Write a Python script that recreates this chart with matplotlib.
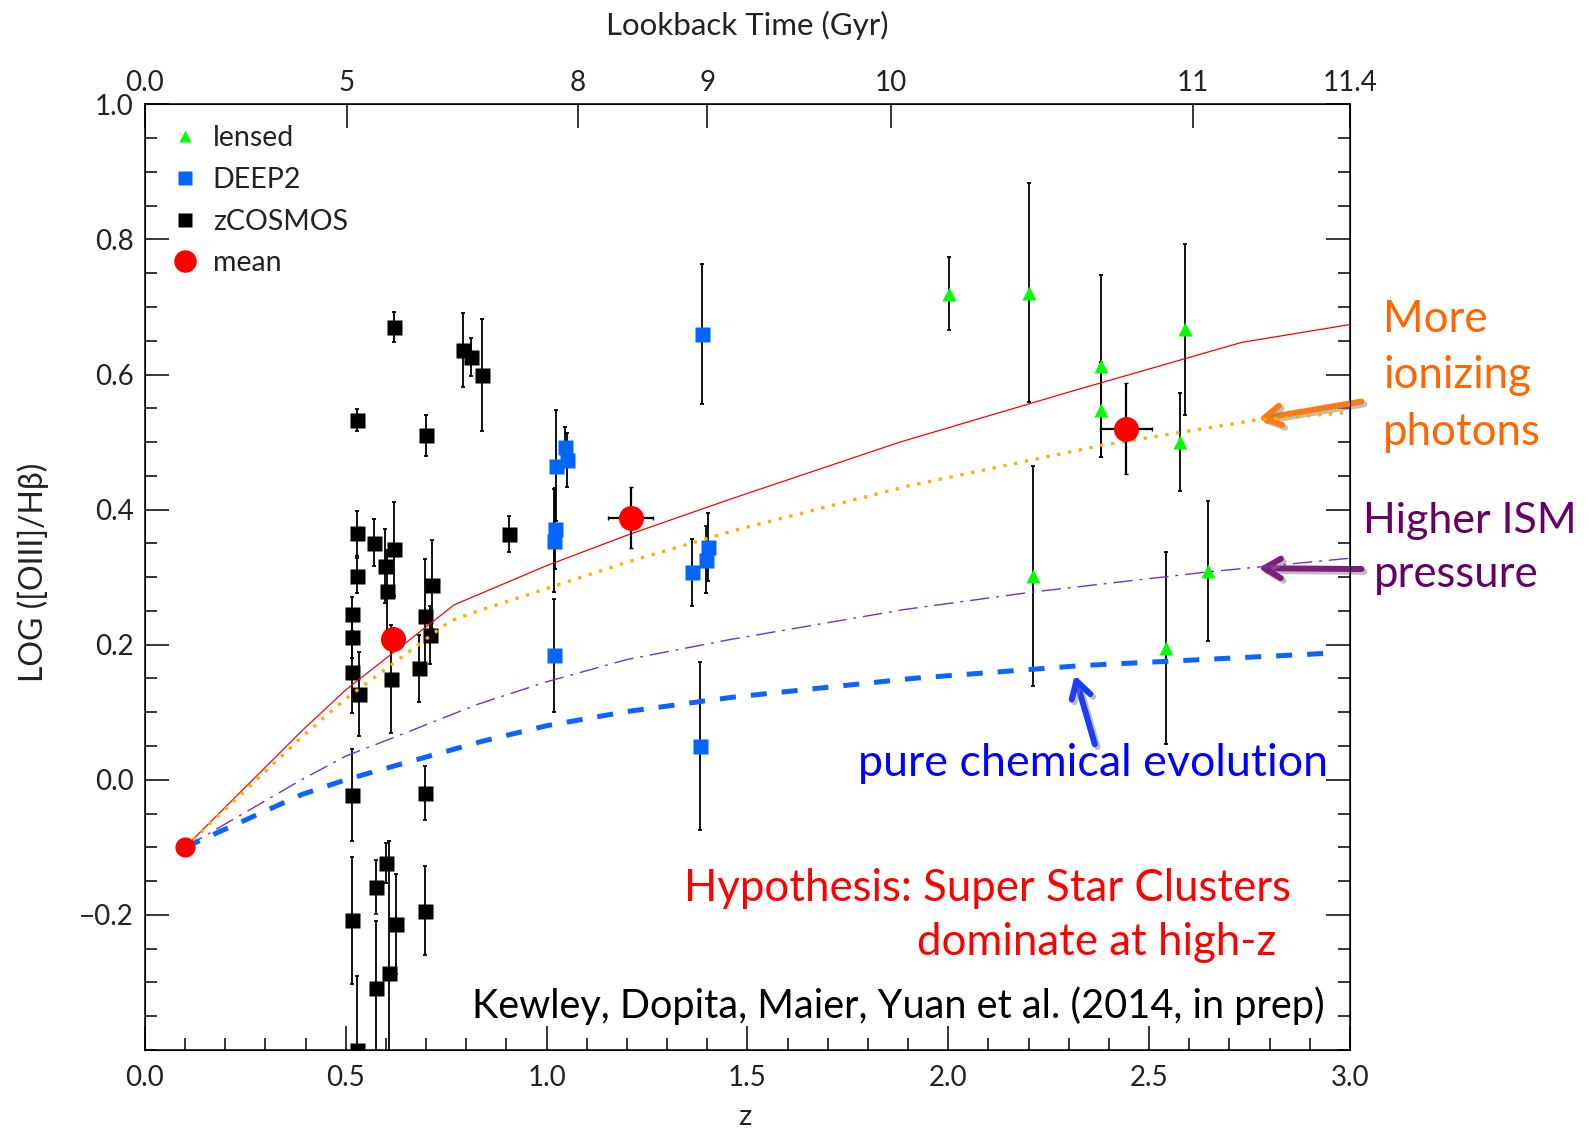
import matplotlib
matplotlib.use("Agg")
import matplotlib.pyplot as plt
import matplotlib.patheffects as pe
from matplotlib.ticker import MultipleLocator
import numpy as np

plt.rcParams['font.family'] = ['Lato', 'DejaVu Sans']

# zCOSMOS galaxies
z_cos = [0.621, 0.529, 0.701, 0.793, 0.811, 0.840, 0.529, 0.571, 0.621, 0.599,
         0.529, 0.603, 0.715, 0.516, 0.698, 0.516, 0.710, 0.516, 0.534, 0.613,
         0.682, 0.907, 0.516, 0.698, 0.601, 0.575, 0.515, 0.625, 0.697, 0.608,
         0.575, 0.529]
r_cos = [0.670, 0.533, 0.510, 0.636, 0.626, 0.599, 0.365, 0.351, 0.342, 0.316,
         0.302, 0.280, 0.289, 0.245, 0.243, 0.211, 0.214, 0.159, 0.127, 0.149,
         0.165, 0.364, -0.022, -0.020, -0.123, -0.159, -0.208, -0.213, -0.194, -0.286,
         -0.309, -0.400]
e_cos = [0.022, 0.016, 0.030, 0.055, 0.028, 0.083, 0.033, 0.035, 0.070, 0.055,
         0.026, 0.060, 0.066, 0.025, 0.084, 0.030, 0.043, 0.060, 0.062, 0.080,
         0.050, 0.027, 0.068, 0.040, 0.030, 0.040, 0.094, 0.074, 0.066, 0.195,
         0.100, 0.110]

# DEEP2 galaxies
z_deep = [1.388, 1.045, 1.050, 1.024, 1.022, 1.019, 1.018, 1.363, 1.403, 1.397, 1.383]
r_deep = [0.660, 0.493, 0.474, 0.465, 0.372, 0.354, 0.184, 0.307, 0.345, 0.326, 0.050]
e_deep = [0.104, 0.030, 0.040, 0.082, 0.060, 0.076, 0.083, 0.050, 0.050, 0.050, 0.124]

# lensed galaxies
z_lens = [2.002, 2.201, 2.381, 2.381, 2.589, 2.577, 2.212, 2.647, 2.541]
r_lens = [0.720, 0.721, 0.6125, 0.548, 0.667, 0.500, 0.3015, 0.309, 0.195]
e_lens = [0.054, 0.162, 0.135, 0.070, 0.127, 0.073, 0.163, 0.104, 0.142]

# binned means
z_mean = [0.1, 0.618, 1.209, 2.442]
r_mean = [-0.1, 0.208, 0.388, 0.520]
ez_mean = [0.0, 0.0, 0.057, 0.065]
er_mean = [0.0, 0.0, 0.045, 0.068]

# model tracks
z_ssc = [0.1, 0.39, 0.5, 0.77, 1.0, 1.2, 1.46, 1.88, 2.3, 2.73, 3.0]
r_ssc = [-0.1, 0.072, 0.133, 0.259, 0.317, 0.362, 0.416, 0.500, 0.574, 0.6475, 0.674]

z_ion = [0.1, 0.39, 0.5, 0.76, 0.83, 1.0, 1.2, 1.46, 1.9, 2.38, 2.77, 3.0]
r_ion = [-0.1, 0.063, 0.12, 0.235, 0.250, 0.283, 0.322, 0.368, 0.435, 0.495, 0.533, 0.544]

z_ism = [0.1, 0.39, 0.5, 0.63, 0.83, 1.0, 1.2, 1.46, 1.89, 2.21, 2.65, 3.0]
r_ism = [-0.1, 0.0, 0.035, 0.065, 0.112, 0.145, 0.178, 0.208, 0.252, 0.278, 0.308, 0.328]

z_chem = [0.1, 0.39, 0.5, 0.63, 0.84, 1.0, 1.2, 1.46, 1.91, 2.33, 2.97]
r_chem = [-0.1, -0.022, 0.0, 0.022, 0.057, 0.080, 0.101, 0.122, 0.150, 0.169, 0.188]

# lookback time axis
lb_z = [0.0, 0.502, 1.078, 1.40, 1.857, 2.61, 3.0]
lb_labels = ['0.0', '5', '8', '9', '10', '11', '11.4']

W, H = 1589, 1129
fig = plt.figure(figsize=(W / 100, H / 100), dpi=100)
ax = fig.add_axes([144.9 / W, 1 - 1049.9 / H, 1205 / W, 945.5 / H])


def fxy(x, y):
    return x / W, 1 - y / H


eb = dict(fmt='none', ecolor='k', elinewidth=1.3, capsize=1.5, capthick=1.3, zorder=2)
ax.errorbar(z_cos, r_cos, yerr=e_cos, **eb)
ax.errorbar(z_deep, r_deep, yerr=e_deep, **eb)
ax.errorbar(z_lens, r_lens, yerr=e_lens, **eb)

h_lens, = ax.plot(z_lens, r_lens, '^', color='#00FF00', ms=10, mec='none', zorder=3, label='lensed')
h_deep, = ax.plot(z_deep, r_deep, 's', color='#0066FF', ms=10.8, mec='none', zorder=3, label='DEEP2')
h_cos, = ax.plot(z_cos, r_cos, 's', color='k', ms=10.8, mec='none', zorder=3, label='zCOSMOS')

ax.plot(z_ssc, r_ssc, '-', color='#FF0000', lw=0.9, zorder=4)
ax.plot(z_ion, r_ion, color='#FFB000', lw=2.4, ls=(0, (1.0, 2.3)), zorder=4)
ax.plot(z_ism, r_ism, color='#7030D0', lw=1.0, ls=(0, (14, 5, 2, 5)), zorder=4)
ax.plot(z_chem, r_chem, color='#0A64FF', lw=3.6, ls=(0, (3.2, 3.0)), zorder=4)

ax.errorbar(z_mean, r_mean, xerr=ez_mean, yerr=er_mean, fmt='none', ecolor='k',
            elinewidth=1.6, capsize=1.5, zorder=5)
# the local reference point is drawn a little smaller
ax.plot(z_mean[:1], r_mean[:1], 'o', color='#FF0000', ms=14.5, mec='none', zorder=6)
h_mean, = ax.plot(z_mean[1:], r_mean[1:], 'o', color='#FF0000', ms=18, mec='none', zorder=6,
                  label='mean')

ax.set_xlim(0, 3.0)
ax.set_ylim(-0.4, 1.0)
ax.xaxis.set_minor_locator(MultipleLocator(0.1))
ax.yaxis.set_minor_locator(MultipleLocator(0.05))
ax.set_yticks([-0.2, 0.0, 0.2, 0.4, 0.6, 0.8, 1.0])
ax.set_yticklabels(['\u22120.2', '0.0', '0.2', '0.4', '0.6', '0.8', '1.0'])
ax.set_xticks([0.0, 0.5, 1.0, 1.5, 2.0, 2.5, 3.0])
ax.set_xticklabels(['0.0', '0.5', '1.0', '1.5', '2.0', '2.5', '3.0'])
ax.tick_params(which='both', direction='in', top=False, right=True, width=1.1,
               labelsize=20, colors='k', labelcolor='#222222')
ax.tick_params(which='major', length=17)
ax.tick_params(which='minor', length=8.6)
ax.tick_params(axis='x', pad=11)
ax.tick_params(axis='y', pad=8)
for sp in ax.spines.values():
    sp.set_linewidth(1.1)

ax2 = ax.twiny()
ax2.set_xlim(ax.get_xlim())
ax2.set_xticks(lb_z)
ax2.set_xticklabels(lb_labels)
ax2.xaxis.set_minor_locator(plt.NullLocator())
ax2.tick_params(direction='in', length=17, width=1.1, labelsize=20, pad=6,
                labelcolor='#222222')

fig.text(*fxy(747, 25), 'Lookback Time (Gyr)', ha='center', va='center', fontsize=22.5,
         color='#222222')
fig.text(*fxy(745, 1117), 'z', ha='center', va='center', fontsize=21, color='#222222')
fig.text(*fxy(33, 572), 'LOG ([OIII]/H\u03b2)', ha='center', va='center', rotation=90,
         fontsize=23, color='#222222')

leg = ax.legend(handles=[h_lens, h_deep, h_cos, h_mean], loc='upper left',
                bbox_to_anchor=(0.0212, 0.978), frameon=False, handlelength=1.0,
                handletextpad=0.49, labelspacing=0.55, borderpad=0, borderaxespad=0,
                markerscale=0.9, prop=dict(size=20.5))
for t in leg.get_texts():
    t.set_color('#222222')

# annotations
fig.text(*fxy(1383, 332), 'More', color='#FF6600', fontsize=31.5, va='baseline')
fig.text(*fxy(1383, 388), 'ionizing', color='#FF6600', fontsize=31.5, va='baseline')
fig.text(*fxy(1383, 445), 'photons', color='#FF6600', fontsize=31.5, va='baseline')
fig.text(*fxy(1363, 533), 'Higher ISM', color='#660066', fontsize=31, va='baseline')
fig.text(*fxy(1374, 587), 'pressure', color='#660066', fontsize=31.5, va='baseline')
fig.text(*fxy(858, 776), 'pure chemical evolution', color='#0000FF', fontsize=32.3,
         va='baseline')
fig.text(*fxy(684, 901), 'Hypothesis: Super Star Clusters', color='#FF0000', fontsize=31.5,
         va='baseline')
fig.text(*fxy(1276, 955), 'dominate at high-z', color='#FF0000', fontsize=31.5,
         va='baseline', ha='right')
fig.text(*fxy(472, 1018), 'Kewley, Dopita, Maier, Yuan et al. (2014, in prep)', color='k',
         fontsize=28.5, va='baseline')

shadow = [pe.SimpleLineShadow(offset=(2, -2), shadow_color='gray', alpha=0.5), pe.Normal()]
arrows = [((2.772, 0.534), (3.029, 0.560), '#FF7A10'),
          ((2.772, 0.3133), (3.029, 0.312), '#7B1F7B'),
          ((2.315, 0.1549), (2.365, 0.0524), '#1A3CFF')]
for head, tail, col in arrows:
    ax.annotate('', xy=head, xytext=tail, annotation_clip=False,
                arrowprops=dict(arrowstyle='->,head_length=0.6,head_width=0.35',
                                mutation_scale=20, lw=4.3, color=col,
                                shrinkA=0, shrinkB=0, path_effects=shadow))

fig.savefig('out.png', dpi=100)
